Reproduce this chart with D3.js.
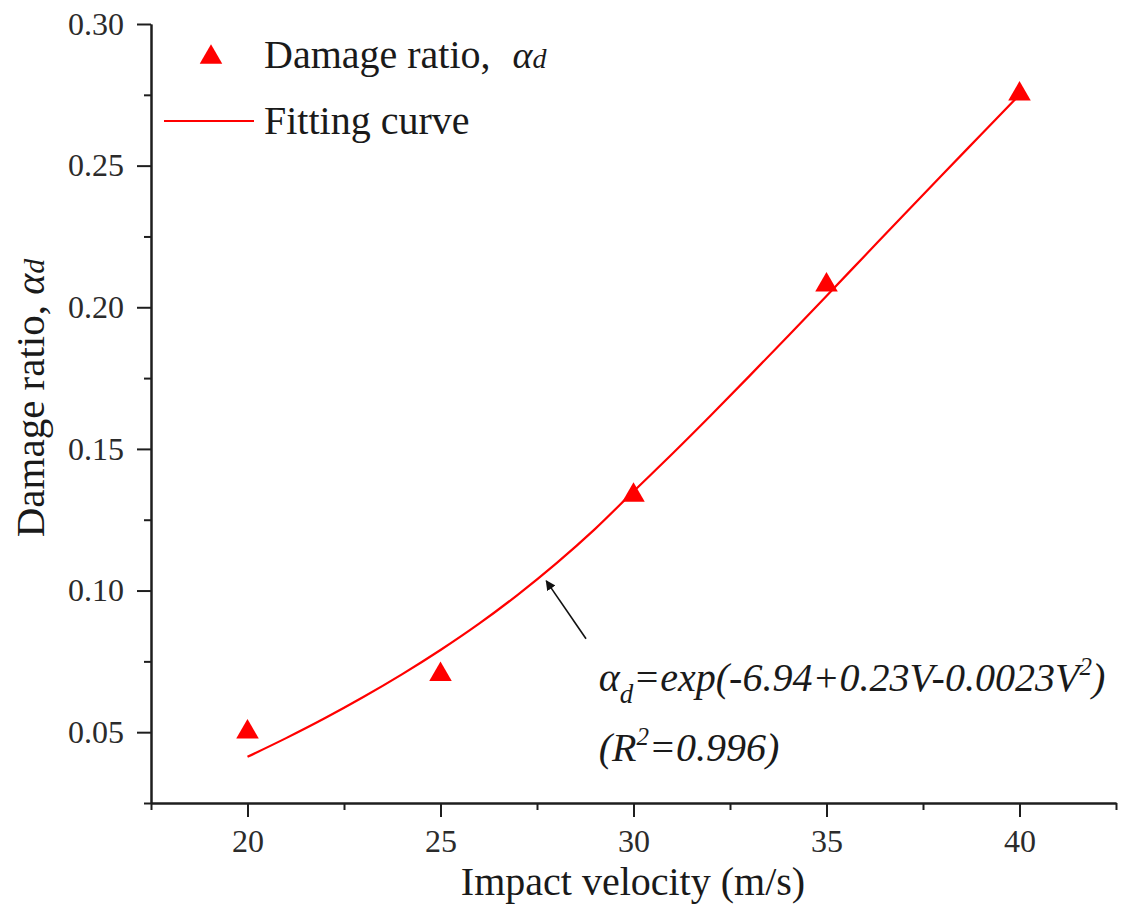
<!DOCTYPE html>
<html>
<head>
<meta charset="utf-8">
<script src="https://cdn.jsdelivr.net/npm/d3@7"></script>
<style>
  body { margin: 0; background: #ffffff; }
  svg { display: block; }
</style>
</head>
<body>
<svg id="chart" width="1136" height="924" font-family="'Liberation Serif', 'Times New Roman', serif"></svg>
<script>
// Measured damage ratio at each impact velocity
const velocities = [20, 25, 30, 35, 40];
const damageRatio = [0.0512, 0.0715, 0.1348, 0.2090, 0.2764];

// Fitted curve, sampled along the velocity range
const fitVelocity = [20, 21, 22, 23, 24, 25, 26, 27, 28, 29, 30, 31, 32, 33, 34, 35, 36, 37, 38, 39, 40];
const fitRatio = [0.0413, 0.0479, 0.0549, 0.0624, 0.0704, 0.0790, 0.0883, 0.0985, 0.1096, 0.1217, 0.1350,
                  0.1482, 0.1618, 0.1757, 0.1898, 0.2040, 0.2183, 0.2326, 0.2468, 0.2609, 0.2750];

// Axis ticks
const xTicks = [20, 25, 30, 35, 40];
const xMinorTicks = [17.5, 22.5, 27.5, 32.5, 37.5, 42.5];
const yTicks = [0.05, 0.10, 0.15, 0.20, 0.25, 0.30];
const yMinorTicks = [0.025, 0.075, 0.125, 0.175, 0.225, 0.275];

// Arrow pointing at the curve, and the equation beneath it (data units)
const arrowFrom = [28.77, 0.0830];
const arrowTo = [27.74, 0.1034];
const equationAt = [29.1, 0.0645];
const r2At = [29.1, 0.0400];

const serif = "'Liberation Serif', 'Times New Roman', serif";
const svg = d3.select("#chart");
const red = "#ff0000";
const ink = "#1e1e1e";

const x = d3.scaleLinear().domain([17.5, 42.5]).range([151, 1116]);
const y = d3.scaleLinear().domain([0.025, 0.30]).range([803, 24]);

// Axes
function styleAxis(g) {
  g.attr("font-family", serif).attr("font-size", 32);
  g.selectAll("path.domain").attr("stroke", ink).attr("stroke-width", 2);
  g.selectAll(".tick line").attr("stroke", ink).attr("stroke-width", 2);
  g.selectAll(".tick text").attr("fill", "#2b2b2b");
}

svg.append("g").attr("transform", `translate(0,${y.range()[0]})`)
  .call(d3.axisBottom(x).tickValues(xTicks).tickSize(14).tickSizeOuter(0).tickPadding(12)
    .tickFormat(d3.format("d")))
  .call(styleAxis);
svg.append("g").attr("transform", `translate(0,${y.range()[0]})`)
  .call(d3.axisBottom(x).tickValues(xMinorTicks).tickSize(7).tickSizeOuter(0).tickFormat(""))
  .call(styleAxis);

svg.append("g").attr("transform", `translate(${x.range()[0]},0)`)
  .call(d3.axisLeft(y).tickValues(yTicks).tickSize(14).tickSizeOuter(0).tickPadding(13)
    .tickFormat(d3.format(".2f")))
  .call(styleAxis);
svg.append("g").attr("transform", `translate(${x.range()[0]},0)`)
  .call(d3.axisLeft(y).tickValues(yMinorTicks).tickSize(7).tickSizeOuter(0).tickFormat(""))
  .call(styleAxis);

// Axis titles
svg.append("text")
  .attr("x", 633).attr("y", 895)
  .attr("text-anchor", "middle")
  .attr("fill", "#1a1a1a")
  .attr("font-family", serif)
  .attr("font-size", 40)
  .text("Impact velocity (m/s)");

const yTitle = svg.append("text")
  .attr("transform", "translate(44,398) rotate(-90)")
  .attr("text-anchor", "middle")
  .attr("fill", "#1a1a1a")
  .attr("font-family", serif)
  .attr("font-size", 41);
yTitle.append("tspan").text("Damage ratio,  ");
yTitle.append("tspan").attr("font-style", "italic").attr("font-size", 40).text("α");
yTitle.append("tspan").attr("font-style", "italic").attr("font-size", 30).text("d");

// Fitted curve
const line = d3.line().x((d, i) => x(fitVelocity[i])).y(d => y(d)).curve(d3.curveCatmullRom.alpha(0.5));
svg.append("path")
  .datum(fitRatio)
  .attr("d", line)
  .attr("fill", "none")
  .attr("stroke", red)
  .attr("stroke-width", 2.2);

// Measured points (triangles, box-centred on the value)
const triSize = 220;
const triOffset = Math.sqrt(triSize / (Math.sqrt(3) * 3)) / 2;
const tri = d3.symbol().type(d3.symbolTriangle).size(triSize);
svg.append("g").selectAll("path")
  .data(velocities)
  .join("path")
  .attr("d", tri)
  .attr("transform", (d, i) => `translate(${x(d)},${y(damageRatio[i]) + triOffset})`)
  .attr("fill", red);

// Legend
const legend = svg.append("g").attr("font-family", serif);
legend.append("path")
  .attr("d", tri)
  .attr("transform", `translate(211,${54 + triOffset})`)
  .attr("fill", red);
const l1 = legend.append("text").attr("x", 264).attr("y", 68)
  .attr("fill", "#1a1a1a").attr("font-size", 40);
l1.append("tspan").text("Damage ratio,");
l1.append("tspan").attr("dx", 22).attr("font-style", "italic").attr("font-size", 38).text("α");
l1.append("tspan").attr("font-style", "italic").attr("font-size", 28).text("d");

legend.append("line")
  .attr("x1", 164).attr("x2", 254).attr("y1", 121).attr("y2", 121)
  .attr("stroke", red).attr("stroke-width", 2.2);
legend.append("text").attr("x", 264).attr("y", 134)
  .attr("fill", "#1a1a1a").attr("font-size", 40)
  .text("Fitting curve");

// Arrow annotation
svg.append("defs").append("marker")
  .attr("id", "arrowhead")
  .attr("viewBox", "0 0 10 10")
  .attr("refX", 9).attr("refY", 5)
  .attr("markerWidth", 10).attr("markerHeight", 10)
  .attr("markerUnits", "userSpaceOnUse")
  .attr("orient", "auto")
  .append("path")
  .attr("d", "M0,0 L10,5 L0,10 z")
  .attr("fill", "#111");
svg.append("line")
  .attr("x1", x(arrowFrom[0])).attr("y1", y(arrowFrom[1]))
  .attr("x2", x(arrowTo[0])).attr("y2", y(arrowTo[1]))
  .attr("stroke", "#111").attr("stroke-width", 1.6)
  .attr("marker-end", "url(#arrowhead)");

// Fitting equation
const eq = svg.append("text")
  .attr("x", x(equationAt[0])).attr("y", y(equationAt[1]))
  .attr("fill", "#1a1a1a")
  .attr("font-family", serif)
  .attr("font-size", 40).attr("font-style", "italic");
eq.append("tspan").text("α");
eq.append("tspan").attr("dy", 12).attr("font-size", 27).text("d");
eq.append("tspan").attr("dy", -12).text("=exp(-6.94+0.23V-0.0023V");
eq.append("tspan").attr("dy", -16).attr("font-size", 25).text("2");
eq.append("tspan").attr("dy", 16).text(")");

const r2 = svg.append("text")
  .attr("x", x(r2At[0])).attr("y", y(r2At[1]))
  .attr("fill", "#1a1a1a")
  .attr("font-family", serif)
  .attr("font-size", 40).attr("font-style", "italic");
r2.append("tspan").text("(R");
r2.append("tspan").attr("dy", -16).attr("font-size", 25).text("2");
r2.append("tspan").attr("dy", 16).text("=0.996)");
</script>
</body>
</html>
